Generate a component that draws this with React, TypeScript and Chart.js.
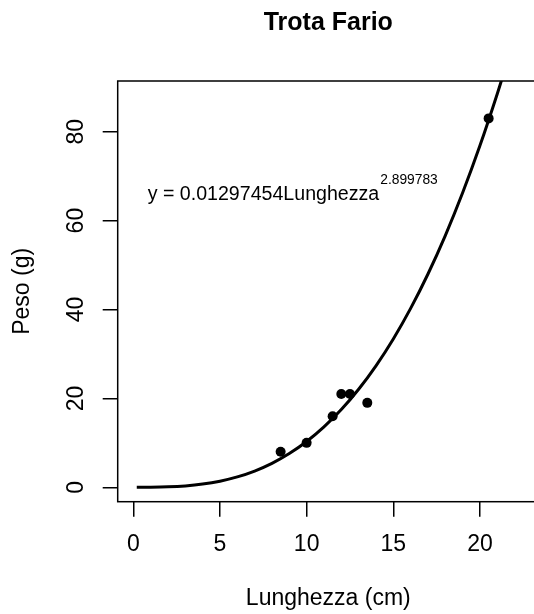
import React, { useEffect, useRef } from 'react';
import { Chart, registerables } from 'chart.js';

Chart.register(...registerables);

const FONT = '"Liberation Sans", Arial, sans-serif';

const TITLE = 'Trota Fario';
const X_LABEL = 'Lunghezza (cm)';
const Y_LABEL = 'Peso (g)';

// observed fish
const LENGTHS = [8.5, 10, 11.5, 12, 12.5, 13.5, 20.5];
const WEIGHTS = [8, 10, 16, 21, 21, 19, 83];

// fitted curve
const CURVE_X = [0.2, 1, 2, 3, 4, 5, 6, 7, 8, 9, 10, 11, 12, 13, 14, 15, 16, 17, 18, 19, 20, 21, 21.3];
const CURVE_Y = [0.0001, 0.013, 0.097, 0.314, 0.723, 1.38, 2.34, 3.66, 5.39, 7.59, 10.3, 13.58, 17.48, 22.05, 27.33, 33.38, 40.25, 47.99, 56.64, 66.25, 76.88, 88.56, 92.28];

const X_TICKS = [0, 5, 10, 15, 20];
const Y_TICKS = [0, 20, 40, 60, 80];

const EQ_MAIN = 'y = 0.01297454Lunghezza';
const EQ_EXP = '2.899783';
const EQ_X = 9.17;
const EQ_Y = 64.6;

const boxPlugin = {
  id: 'boxPlugin',
  afterDraw(chart: any) {
    const { ctx, chartArea } = chart;
    ctx.save();
    ctx.strokeStyle = '#000';
    ctx.lineWidth = 1.5;
    ctx.strokeRect(chartArea.left, chartArea.top, chartArea.right - chartArea.left, chartArea.bottom - chartArea.top);
    ctx.restore();
  },
};

const equationPlugin = {
  id: 'equationPlugin',
  afterDatasetsDraw(chart: any) {
    const { ctx } = chart;
    const xs = chart.scales.x;
    const ys = chart.scales.y;
    const cx = xs.getPixelForValue(EQ_X);
    const by = ys.getPixelForValue(EQ_Y);
    ctx.save();
    ctx.fillStyle = '#000';
    ctx.textBaseline = 'alphabetic';
    ctx.textAlign = 'left';
    ctx.font = `19.6px ${FONT}`;
    const mw = ctx.measureText(EQ_MAIN).width;
    ctx.font = `13.8px ${FONT}`;
    const ew = ctx.measureText(EQ_EXP).width;
    const start = cx - (mw + ew) / 2;
    ctx.font = `19.6px ${FONT}`;
    ctx.fillText(EQ_MAIN, start, by);
    ctx.font = `13.8px ${FONT}`;
    ctx.fillText(EQ_EXP, start + mw + 1, by - 16);
    ctx.restore();
  },
};

export default function App() {
  const ref = useRef<HTMLCanvasElement | null>(null);

  useEffect(() => {
    if (!ref.current) return;
    const chart = new Chart(ref.current, {
      type: 'scatter',
      data: {
        datasets: [
          {
            label: 'fit',
            data: CURVE_X.map((x, i) => ({ x, y: CURVE_Y[i] })),
            showLine: true,
            borderColor: '#000',
            borderWidth: 3,
            pointRadius: 0,
            pointHoverRadius: 0,
            cubicInterpolationMode: 'monotone',
            order: 2,
          } as any,
          {
            label: 'obs',
            data: LENGTHS.map((x, i) => ({ x, y: WEIGHTS[i] })),
            showLine: false,
            pointRadius: 5,
            pointHoverRadius: 5,
            pointBackgroundColor: '#000',
            pointBorderColor: '#000',
            pointBorderWidth: 0,
            order: 1,
          } as any,
        ],
      },
      options: {
        responsive: false,
        animation: false,
        events: [],
        layout: { padding: { left: 0, top: 0, right: 21.1, bottom: 0 } },
        plugins: {
          legend: { display: false },
          tooltip: { enabled: false },
          title: {
            display: true,
            text: TITLE,
            fullSize: false,
            color: '#000',
            font: { family: FONT, size: 25, weight: 'bold' },
            padding: { top: 8, bottom: 43 },
          },
        },
        scales: {
          x: {
            type: 'linear',
            position: 'bottom',
            min: -0.9,
            max: 23.4,
            afterFit(scale: any) {
              scale.height = 112.3;
            },
            afterBuildTicks(scale: any) {
              scale.ticks = X_TICKS.map((v) => ({ value: v }));
            },
            grid: {
              display: true,
              drawOnChartArea: false,
              drawTicks: true,
              tickLength: 15,
              color: '#000',
              lineWidth: 1.5,
            },
            border: { display: false },
            ticks: {
              color: '#000',
              font: { family: FONT, size: 23 },
              padding: 14,
              maxRotation: 0,
              minRotation: 0,
            },
            title: {
              display: true,
              text: X_LABEL,
              color: '#000',
              font: { family: FONT, size: 23 },
              padding: { top: 0, bottom: 1.5 },
            },
          },
          y: {
            type: 'linear',
            position: 'left',
            min: -3.24,
            max: 91.41,
            afterFit(scale: any) {
              scale.width = 117.7;
            },
            afterBuildTicks(scale: any) {
              scale.ticks = Y_TICKS.map((v) => ({ value: v }));
            },
            grid: {
              display: true,
              drawOnChartArea: false,
              drawTicks: true,
              tickLength: 15,
              color: '#000',
              lineWidth: 1.5,
            },
            border: { display: false },
            ticks: {
              color: '#000',
              font: { family: FONT, size: 23 },
              padding: 13.5,
              minRotation: 90,
              maxRotation: 90,
              crossAlign: 'center',
            },
            title: {
              display: true,
              text: Y_LABEL,
              color: '#000',
              font: { family: FONT, size: 23 },
              padding: { top: 8.4, bottom: 0 },
            },
          },
        },
      } as any,
      plugins: [boxPlugin, equationPlugin],
    });
    return () => chart.destroy();
  }, []);

  return (
    <div
      style={{
        position: 'fixed',
        left: 0,
        top: 0,
        width: 534,
        height: 614,
        overflow: 'hidden',
        background: '#fff',
      }}
    >
      <canvas ref={ref} width={560} height={614} style={{ display: 'block' }} />
    </div>
  );
}
